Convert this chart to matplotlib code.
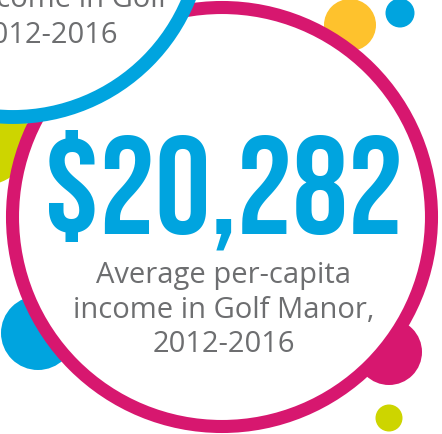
import matplotlib
matplotlib.use("Agg")
import matplotlib.pyplot as plt
from matplotlib.patches import Circle

# headline figure and caption
headline = "$20,282"
caption_lines = ["Average per-capita", "income in Golf Manor,", "2012-2016"]
# second card (cropped at top-left)
back_lines = ["income in Golf", "2012-2016"]

PINK = "#d7176f"
BLUE = "#00a4df"
YELLOW = "#fec22d"
LIME = "#cdd500"
GRAY = "#6d6e70"

# decorative dots: x, y, radius, colour (pixel units, y downwards)
dot_x = [38, -15, 389, 389, 400]
dot_y = [333, 140, 352, 418, 13]
dot_r = [37, 45, 33, 13.5, 14.5]
dot_c = [BLUE, LIME, PINK, LIME, BLUE]

fig = plt.figure(figsize=(4.42, 4.34), dpi=100)
ax = fig.add_axes([0, 0, 1, 1])
ax.set_xlim(0, 442)
ax.set_ylim(434, 0)
ax.axis("off")

for x, y, r, c in zip(dot_x, dot_y, dot_r, dot_c):
    ax.add_patch(Circle((x, y), r, color=c, lw=0, zorder=1))

# main card
ax.add_patch(Circle((222, 217), 209.5, facecolor="white", lw=0, zorder=2))
ax.add_patch(Circle((350, 25), 26, color=YELLOW, lw=0, zorder=3))
ax.add_patch(Circle((222, 217), 209.5, fill=False, edgecolor=PINK, lw=9.4, zorder=4))

# back card
ax.add_patch(Circle((13, -73), 190, facecolor="white", edgecolor=BLUE, lw=10, zorder=5))
ax.text(167, 7, back_lines[0], ha="right", va="baseline", fontsize=21,
        family="Open Sans", color=GRAY, zorder=6)
ax.text(118, 43, back_lines[1], ha="right", va="baseline", fontsize=21,
        family="Open Sans", color=GRAY, zorder=6)

ax.text(224, 233, headline, ha="center", va="baseline", fontsize=100,
        family="Bebas Neue", color=BLUE, zorder=6)
for line, yb in zip(caption_lines, [283, 318, 352]):
    ax.text(224, yb, line, ha="center", va="baseline", fontsize=21,
            family="Open Sans", color=GRAY, zorder=6)

fig.savefig("out.png", dpi=100)
